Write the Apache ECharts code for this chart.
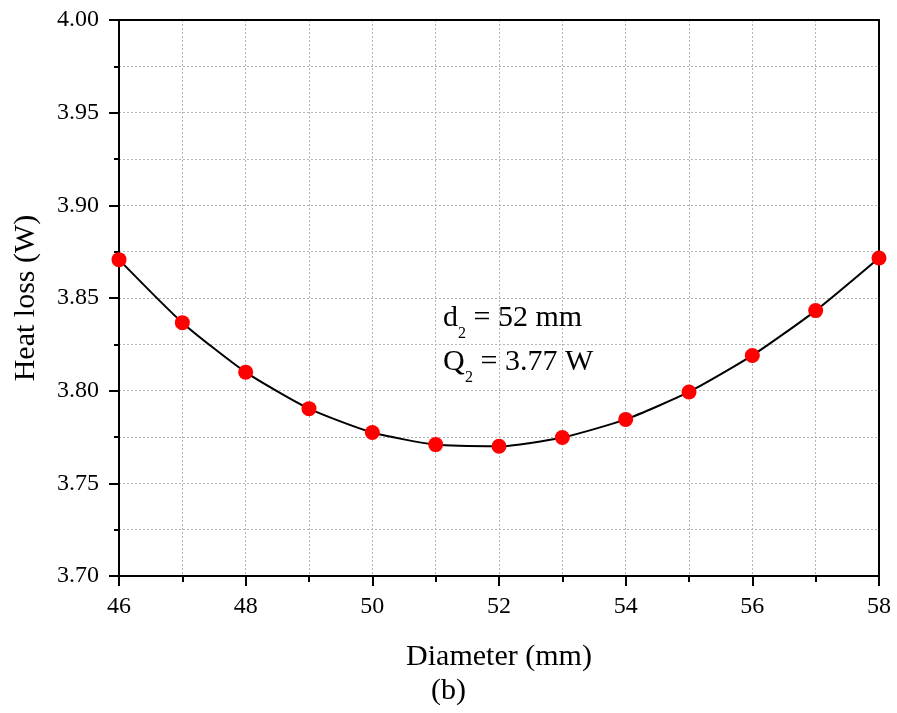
<!DOCTYPE html>
<html>
<head>
<meta charset="utf-8">
<script src="https://cdn.jsdelivr.net/npm/echarts@6/dist/echarts.min.js"></script>
<style>html,body{margin:0;padding:0;background:#fff}#c{width:897px;height:713px}</style>
</head>
<body>
<div id="c"></div>
<script>
var diameters = [46, 47, 48, 49, 50, 51, 52, 53, 54, 55, 56, 57, 58];
var heatLoss = [3.8707, 3.8367, 3.8100, 3.7903, 3.7774, 3.7709, 3.7700, 3.7747, 3.7845, 3.7993, 3.8190, 3.8432, 3.8716];
var yTicks = ['3.70', '3.75', '3.80', '3.85', '3.90', '3.95', '4.00'];
var xTitle = 'Diameter (mm)';
var yTitle = 'Heat loss (W)';
var caption = '(b)';

var FONT = '"Liberation Serif", "Times New Roman", serif';
var chart = echarts.init(document.getElementById('c'), null, {renderer: 'canvas'});
var gridDash = {color: '#b4b4b4', width: 1, type: [2, 2]};

function t(text, x, y, size, extra) {
  var o = {type: 'text', x: x, y: y, z: 10, style: {text: text, fontFamily: FONT, fontSize: size, fill: '#000', verticalAlign: 'top'}};
  return o;
}
chart.setOption({
  animation: false,
  backgroundColor: '#fff',
  grid: {left: 119, top: 20, right: 18, bottom: 137},
  xAxis: [{
    type: 'value', min: 46, max: 58, interval: 2,
    name: xTitle, nameLocation: 'middle', nameGap: 66,
    nameTextStyle: {fontFamily: FONT, fontSize: 30, color: '#000'},
    axisLine: {lineStyle: {color: '#000', width: 2}},
    axisTick: {show: true, inside: false, length: 10, lineStyle: {color: '#000', width: 2}},
    minorTick: {show: true, splitNumber: 2, length: 6, lineStyle: {color: '#000', width: 2}},
    axisLabel: {fontFamily: FONT, fontSize: 24, color: '#000', margin: 19},
    splitLine: {show: true, lineStyle: gridDash},
    minorSplitLine: {show: true, lineStyle: gridDash},
    z: 3
  }, {
    type: 'value', position: 'top', min: 46, max: 58, interval: 2,
    axisLine: {show: true, onZero: false, lineStyle: {color: '#000', width: 2}},
    axisTick: {show: false}, axisLabel: {show: false}, splitLine: {show: false}, z: 3
  }],
  yAxis: [{
    type: 'value', min: 3.70, max: 4.00, interval: 0.05,
    name: yTitle, nameLocation: 'middle', nameGap: 78, nameRotate: 90,
    nameTextStyle: {fontFamily: FONT, fontSize: 30, color: '#000'},
    axisLine: {show: true, lineStyle: {color: '#000', width: 2}},
    axisTick: {show: true, inside: false, length: 10, lineStyle: {color: '#000', width: 2}},
    minorTick: {show: true, splitNumber: 2, length: 5, lineStyle: {color: '#000', width: 2}},
    axisLabel: {fontFamily: FONT, fontSize: 24, color: '#000', margin: 20,
      formatter: function (v) { var i = Math.round((v - 3.70) / 0.05); return yTicks[i] !== undefined ? yTicks[i] : v.toFixed(2); }},
    splitLine: {show: true, lineStyle: gridDash},
    minorSplitLine: {show: true, lineStyle: gridDash},
    z: 3
  }, {
    type: 'value', position: 'right', min: 3.70, max: 4.00, interval: 0.05,
    axisLine: {show: true, onZero: false, lineStyle: {color: '#000', width: 2}},
    axisTick: {show: false}, axisLabel: {show: false}, splitLine: {show: false}, z: 3
  }],
  series: [{
    type: 'line',
    xAxisIndex: 0, yAxisIndex: 0,
    data: diameters.map(function (d, i) { return [d, heatLoss[i]]; }),
    smooth: 0.2,
    symbol: 'circle', symbolSize: 15,
    lineStyle: {color: '#000', width: 2},
    itemStyle: {color: '#ff0000', borderWidth: 0},
    clip: false,
    z: 5
  }],
  graphic: [
    t('d', 443, 303, 30),
    t('2', 458, 326, 16),
    t(' = 52 mm', 466, 303, 30),
    t('Q', 443, 347, 30),
    t('2', 465, 370, 16),
    t(' = 3.77 W', 473, 347, 30),
    {type: 'text', left: 'center', top: 676, z: 10, style: {
      text: caption, fontFamily: FONT, fontSize: 30, fill: '#000'}}
  ]
});
</script>
</body>
</html>
